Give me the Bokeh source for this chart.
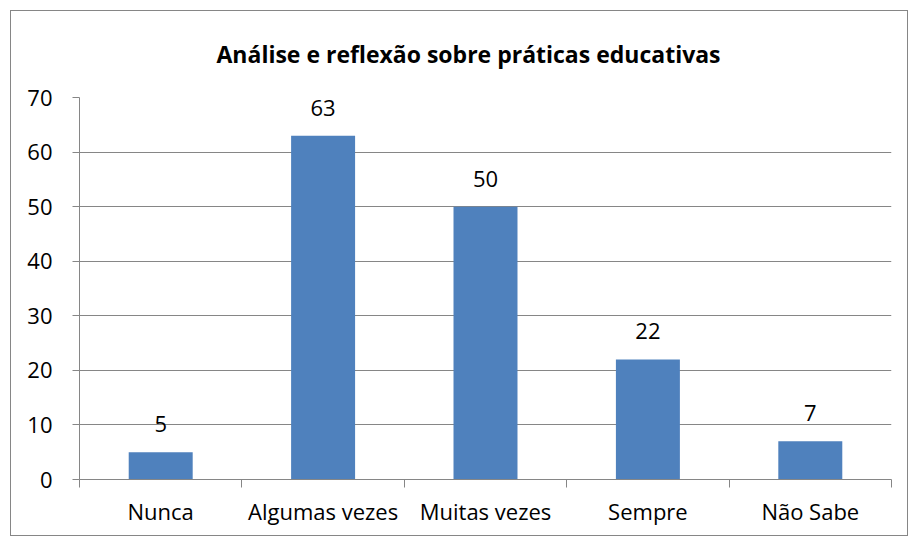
from bokeh.plotting import figure
from bokeh.models import Range1d, FixedTicker, LinearAxis, ColumnDataSource
from bokeh.embed import file_html
from bokeh.resources import INLINE
from bokeh.core.properties import value

title = "Análise e reflexão sobre práticas educativas"
categories = ["Nunca", "Algumas vezes", "Muitas vezes", "Sempre", "Não Sabe"]
counts = [5, 63, 50, 22, 7]
y_ticks = [0, 10, 20, 30, 40, 50, 60, 70]

FONT = "Open Sans"
GRAY = "#868686"
BAR = "#4F81BD"

n = len(categories)
xs = [i + 0.5 for i in range(n)]
bounds = [float(i) for i in range(n + 1)]
src = ColumnDataSource(dict(x=xs, top=counts, label=[str(c) for c in counts]))

p = figure(width=896, height=524, frame_width=812, frame_height=382,
           x_range=Range1d(0, n), y_range=Range1d(0, max(y_ticks)),
           output_backend="svg", toolbar_location=None,
           x_axis_location=None, y_axis_location=None,
           min_border_left=68, min_border_right=16, min_border_top=86, min_border_bottom=56)
p.margin = (10, 0, 0, 10)
p.styles = {"border": "1px solid " + GRAY}
p.outline_line_color = None
p.background_fill_color = "white"
p.border_fill_color = "white"

p.title.text = title
p.title.align = "left"
p.title.vertical_align = "top"
p.title.text_font = FONT
p.title.text_font_size = "23px"
p.title.text_font_style = "bold"
p.title.text_color = "black"
p.title.standoff = 52
p.title.offset = 137

yaxis = LinearAxis(ticker=FixedTicker(ticks=y_ticks, minor_ticks=[]))
yaxis.axis_line_color = GRAY
yaxis.major_tick_line_color = GRAY
yaxis.major_tick_out = 7
yaxis.major_tick_in = 0
yaxis.minor_tick_line_color = None
yaxis.major_label_text_font = FONT
yaxis.major_label_text_font_size = "22px"
yaxis.major_label_text_color = "black"
yaxis.major_label_standoff = 20
p.add_layout(yaxis, "left")

xaxis = LinearAxis(ticker=FixedTicker(ticks=xs, minor_ticks=bounds))
xaxis.major_label_overrides = {x: c for x, c in zip(xs, categories)}
xaxis.axis_line_color = GRAY
xaxis.major_tick_line_color = None
xaxis.major_tick_out = 0
xaxis.major_tick_in = 0
xaxis.minor_tick_line_color = GRAY
xaxis.minor_tick_out = 8
xaxis.minor_tick_in = 0
xaxis.major_label_text_font = FONT
xaxis.major_label_text_font_size = "22px"
xaxis.major_label_text_color = "black"
xaxis.major_label_standoff = 8
p.add_layout(xaxis, "below")

p.xgrid.grid_line_color = None
p.ygrid.ticker = FixedTicker(ticks=y_ticks)
p.ygrid.grid_line_color = GRAY

p.vbar(x="x", top="top", bottom=0, width=0.394, source=src, fill_color=BAR, line_color=None)
p.text(x="x", y="top", text="label", source=src, text_align="center", text_baseline="middle",
       y_offset=-28, text_font=value(FONT), text_font_size="22px", text_color="black")

open("out.html", "w").write(file_html(p, INLINE))
